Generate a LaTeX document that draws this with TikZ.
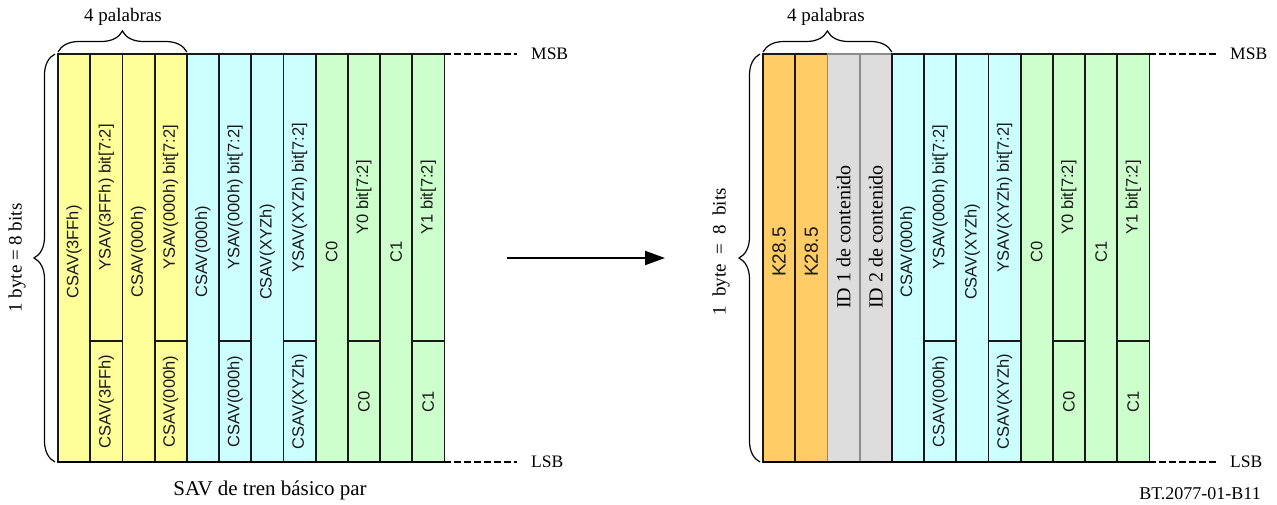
\documentclass[tikz,border=0pt]{standalone}
\usepackage{fontspec}
\setmainfont{Liberation Serif}
\newfontfamily\cellfont{Liberation Sans}
\usetikzlibrary{arrows.meta,decorations.pathreplacing}
\definecolor{cyel}{HTML}{FFFF99}
\definecolor{ccya}{HTML}{CCFFFF}
\definecolor{cgrn}{HTML}{CCFFCC}
\definecolor{corg}{HTML}{FFCC66}
\definecolor{cgry}{HTML}{DDDDDD}
\tikzset{
  cellbox/.style={draw=black!90, line width=1.8pt, minimum width=32.2pt, inner sep=0pt, outer sep=0pt},
  celltext/.style={font=\cellfont\fontsize{16.5}{18}\selectfont, text=black!90, inner sep=0pt, rotate=90},
  sertext/.style={font=\fontsize{19}{22}\selectfont, inner sep=0pt},
  bracestyle/.style={decorate, decoration={brace, amplitude=21pt}, line width=1.2pt},
  levelline/.style={dashed, dash pattern=on 7pt off 3pt, line width=1.5pt},
}
% #1 name, #2 x0, #3 index, #4 fill, #5 text
\newcommand\fullcell[5]{%
  \node[cellbox, fill=#4, minimum height=408pt] (#1) at ({#2+(#3-0.5)*32.2}, 258) {};
  \node[celltext] (#1t) at ({#2+(#3-0.5)*32.2}, 252) {#5};
}
% #1 name, #2 x0, #3 index, #4 fill, #5 upper text, #6 lower text
\newcommand\splitcell[6]{%
  \node[cellbox, fill=#4, minimum height=287pt] (#1u) at ({#2+(#3-0.5)*32.2}, 197.5) {};
  \node[cellbox, fill=#4, minimum height=121pt] (#1l) at ({#2+(#3-0.5)*32.2}, 401.5) {};
  \node[celltext] (#1ut) at (#1u.center) {#5};
  \node[celltext] (#1lt) at (#1l.center) {#6};
}
\begin{document}
\begin{tikzpicture}[x=1pt,y=-1pt]
\useasboundingbox (0,0) rectangle (1277,504);
\fill[white] (0,0) rectangle (1277,504);

% ---------------- left block ----------------
\fullcell{La}{58}{1}{cyel}{CSAV(3FFh)}
\splitcell{Lb}{58}{2}{cyel}{YSAV(3FFh) bit[7:2]}{CSAV(3FFh)}
\fullcell{Lc}{58}{3}{cyel}{CSAV(000h)}
\splitcell{Ld}{58}{4}{cyel}{YSAV(000h) bit[7:2]}{CSAV(000h)}
\fullcell{Le}{58}{5}{ccya}{CSAV(000h)}
\splitcell{Lf}{58}{6}{ccya}{YSAV(000h) bit[7:2]}{CSAV(000h)}
\fullcell{Lg}{58}{7}{ccya}{CSAV(XYZh)}
\splitcell{Lh}{58}{8}{ccya}{YSAV(XYZh) bit[7:2]}{CSAV(XYZh)}
\fullcell{Li}{58}{9}{cgrn}{C0}
\splitcell{Lj}{58}{10}{cgrn}{Y0 bit[7:2]}{C0}
\fullcell{Lk}{58}{11}{cgrn}{C1}
\splitcell{Ll}{58}{12}{cgrn}{Y1 bit[7:2]}{C1}

\draw[line width=2.6pt] (La.south west) -- (Lll.south east);

% braces and labels, left
\draw[bracestyle] (La.north west) ++(0,-2) coordinate (Lbs) -- (Ldu.north east |- Lbs) coordinate (Lbe);
\node[sertext] (Lwords) at (123,17) {4 palabras};
\draw[bracestyle] (55,462) coordinate (Lvs) -- (55,54) coordinate (Lve);
\node[sertext, rotate=90] (Lbyte) at (17,258) {1 byte = 8 bits};

\node[sertext, font=\fontsize{17.5}{20}\selectfont, anchor=west] (Lmsb) at (531,54) {MSB};
\node[sertext, font=\fontsize{17.5}{20}\selectfont, anchor=west] (Llsb) at (531,462) {LSB};
\draw[levelline] (Llu.north east) -- (Lmsb.west -| 517,0);
\draw[levelline] (Lll.south east) -- (Llsb.west -| 517,0);

\node[sertext, font=\fontsize{21}{24}\selectfont] (Lcap) at (270,490) {SAV de tren básico par};

% arrow
\coordinate (as) at (507,258);
\coordinate (ae) at (665,258);
\draw[line width=2pt, -{Triangle[length=20pt,width=14pt]}] (as) -- (ae);

% ---------------- right block ----------------
\fullcell{Ra}{763}{1}{corg}{\fontsize{19}{20}\selectfont K28.5}
\fullcell{Rb}{763}{2}{corg}{\fontsize{19}{20}\selectfont K28.5}
\node[cellbox, draw=black!45, fill=cgry, minimum height=408pt] (Rc) at ({763+2.5*32.2}, 258) {};
\node[sertext, font=\fontsize{20}{22}\selectfont, rotate=90] (Rct) at ({763+2.5*32.2}, 237) {ID 1 de contenido};
\node[cellbox, draw=black!45, fill=cgry, minimum height=408pt] (Rd) at ({763+3.5*32.2}, 258) {};
\node[sertext, font=\fontsize{20}{22}\selectfont, rotate=90] (Rdt) at ({763+3.5*32.2}, 237) {ID 2 de contenido};
\fullcell{Re}{763}{5}{ccya}{CSAV(000h)}
\splitcell{Rf}{763}{6}{ccya}{YSAV(000h) bit[7:2]}{CSAV(000h)}
\fullcell{Rg}{763}{7}{ccya}{CSAV(XYZh)}
\splitcell{Rh}{763}{8}{ccya}{YSAV(XYZh) bit[7:2]}{CSAV(XYZh)}
\fullcell{Ri}{763}{9}{cgrn}{C0}
\splitcell{Rj}{763}{10}{cgrn}{Y0 bit[7:2]}{C0}
\fullcell{Rk}{763}{11}{cgrn}{C1}
\splitcell{Rl}{763}{12}{cgrn}{Y1 bit[7:2]}{C1}

\draw[line width=2.6pt] (Ra.south west) -- (Rll.south east);

\draw[bracestyle] (Ra.north west) ++(0,-2) coordinate (Rbs) -- (Rd.north east |- Rbs) coordinate (Rbe);
\node[sertext] (Rwords) at (826,17) {4 palabras};
\draw[bracestyle] (760,462) coordinate (Rvs) -- (760,54) coordinate (Rve);
\node[sertext, rotate=90] (Rbyte) at (721,252) {1\ \ byte\ \ =\ \ 8\ \ bits};

\node[sertext, font=\fontsize{17.5}{20}\selectfont, anchor=west] (Rmsb) at (1230,54) {MSB};
\node[sertext, font=\fontsize{17.5}{20}\selectfont, anchor=west] (Rlsb) at (1230,462) {LSB};
\draw[levelline] (Rlu.north east) -- (Rmsb.west -| 1219,0);
\draw[levelline] (Rll.south east) -- (Rlsb.west -| 1219,0);

\node[sertext, font=\fontsize{18}{20}\selectfont] (fig) at (1200,494) {BT.2077-01-B11};
\end{tikzpicture}
\end{document}
